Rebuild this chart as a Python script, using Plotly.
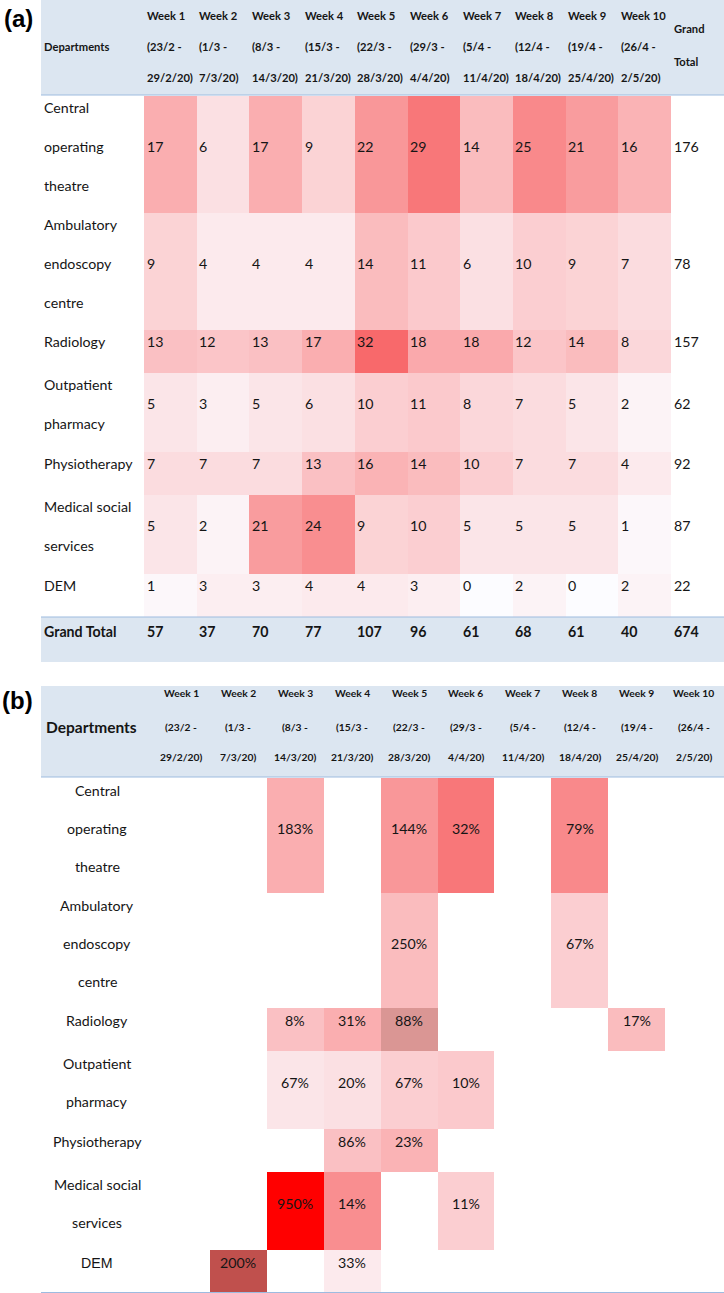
import numpy as np
import plotly.graph_objects as go

# ---------------- data ----------------
departments = ["Central operating theatre", "Ambulatory endoscopy centre", "Radiology",
               "Outpatient pharmacy", "Physiotherapy", "Medical social services", "DEM"]
dept_lines = [["Central", "operating", "theatre"],
              ["Ambulatory", "endoscopy", "centre"],
              ["Radiology"],
              ["Outpatient", "pharmacy"],
              ["Physiotherapy"],
              ["Medical social", "services"],
              ["DEM"]]
weeks = ["Week 1", "Week 2", "Week 3", "Week 4", "Week 5",
         "Week 6", "Week 7", "Week 8", "Week 9", "Week 10"]
week_start = ["(23/2 -", "(1/3 -", "(8/3 -", "(15/3 -", "(22/3 -",
              "(29/3 -", "(5/4 -", "(12/4 -", "(19/4 -", "(26/4 -"]
week_end = ["29/2/20)", "7/3/20)", "14/3/20)", "21/3/20)", "28/3/20)",
            "4/4/20)", "11/4/20)", "18/4/20)", "25/4/20)", "2/5/20)"]

cnt_central = [17, 6, 17, 9, 22, 29, 14, 25, 21, 16]
cnt_ambulatory = [9, 4, 4, 4, 14, 11, 6, 10, 9, 7]
cnt_radiology = [13, 12, 13, 17, 32, 18, 18, 12, 14, 8]
cnt_outpatient = [5, 3, 5, 6, 10, 11, 8, 7, 5, 2]
cnt_physio = [7, 7, 7, 13, 16, 14, 10, 7, 7, 4]
cnt_medsocial = [5, 2, 21, 24, 9, 10, 5, 5, 5, 1]
cnt_dem = [1, 3, 3, 4, 4, 3, 0, 2, 0, 2]

pct_central = [None, None, 183, None, 144, 32, None, 79, None, None]
pct_ambulatory = [None, None, None, None, 250, None, None, 67, None, None]
pct_radiology = [None, None, 8, 31, 88, None, None, None, 17, None]
pct_outpatient = [None, None, 67, 20, 67, 10, None, None, None, None]
pct_physio = [None, None, None, 86, 23, None, None, None, None, None]
pct_medsocial = [None, None, 950, 14, None, 11, None, None, None, None]
pct_dem = [None, 200, None, 33, None, None, None, None, None, None]

# manually highlighted cells of panel (b): (department, week, colour)
highlights = [("Medical social services", "Week 3", "#FF0000"),
              ("DEM", "Week 2", "#C0504D"),
              ("Radiology", "Week 5", "#DA9694")]

counts = [cnt_central, cnt_ambulatory, cnt_radiology, cnt_outpatient,
          cnt_physio, cnt_medsocial, cnt_dem]
pcts = [pct_central, pct_ambulatory, pct_radiology, pct_outpatient,
        pct_physio, pct_medsocial, pct_dem]
row_totals = [sum(r) for r in counts]
col_totals = [sum(c) for c in zip(*counts)]
grand_total = sum(row_totals)

# ---------------- layout constants ----------------
W, H = 724, 1293
FONT = "Lato"
ARIAL = "Liberation Sans"
TXT = "#151515"
BAND = "#DCE6F1"
LINE = "#9DBBE0"
SCALE = [[0, "#FCFCFF"], [1, "#F8696B"]]

# panel (a)
A_LEFT, A_COL0, A_COLW = 41, 144, 52.7
A_TOP = 96
A_ROWH = {1: 43, 2: 79, 3: 117}
A_LINE0, A_LINESP = 11, 39
# panel (b)
B_LEFT, B_COL0, B_COLW = 41, 153, 56.9
B_TOP = 778
B_ROWH = {1: 42.5, 2: 78.5, 3: 115}
B_LINE0, B_LINESP = 12.5, 38

fig = go.Figure()


def edges(start, sizes):
    e = [start]
    for s in sizes:
        e.append(e[-1] + s)
    return e


def ann(x, y, text, size, bold=False, xanchor="left", family=FONT, color=TXT):
    fig.add_annotation(x=x, y=y, xref="x", yref="y", text=f"<b>{text}</b>" if bold else text,
                       showarrow=False, xanchor=xanchor, yanchor="middle",
                       font=dict(family=family, size=size, color=color))


def band(x0, x1, y0, y1):
    fig.add_shape(type="rect", x0=x0, x1=x1, y0=y0, y1=y1, xref="x", yref="y",
                  fillcolor=BAND, line_width=0, layer="below")


def hline(x0, x1, y):
    fig.add_shape(type="line", x0=x0, x1=x1, y0=y, y1=y, xref="x", yref="y",
                  line=dict(color=LINE, width=1.2))


nrow, ncol = len(departments), len(weeks)
n_lines = [len(l) for l in dept_lines]

# ================= panel (a) =================
ax = [A_COL0 + A_COLW * i for i in range(ncol + 1)]
ay = edges(A_TOP, [A_ROWH[n] for n in n_lines])
band(A_LEFT, W, 0, A_TOP - 1)
band(A_LEFT, W, ay[-1], ay[-1] + 45)
fig.add_trace(go.Heatmap(z=np.array(counts, dtype=float), x=ax, y=ay, colorscale=SCALE,
                         zmin=0, zmax=max(max(r) for r in counts), showscale=False,
                         hoverinfo="skip"))
hline(A_LEFT, W, A_TOP - 1)
hline(A_LEFT, W, ay[-1])

HA = 11.2
ann(2, 18, "(a)", 24, bold=True, family=ARIAL, color="#000")
ann(A_LEFT + 1, 46, "Departments", HA, bold=True)
for j in range(ncol):
    ann(ax[j] + 0.5, 15, weeks[j], HA, bold=True)
    ann(ax[j] + 0.5, 46, week_start[j], HA, bold=True)
    ann(ax[j] + 0.5, 77, week_end[j], HA, bold=True)
ann(ax[-1] + 1, 28, "Grand", HA, bold=True)
ann(ax[-1] + 1, 61, "Total", HA, bold=True)

for i in range(nrow):
    top = ay[i]
    for k, line in enumerate(dept_lines[i]):
        ann(A_LEFT + 1, top + A_LINE0 + A_LINESP * k, line, 14.2)
    ymid = top + A_LINE0 + A_LINESP * (n_lines[i] - 1) / 2
    for j in range(ncol):
        ann(ax[j] + 0.5, ymid, str(counts[i][j]), 14.2)
    ann(ax[-1] + 0.5, ymid, str(row_totals[i]), 14.2)

gy = ay[-1] + 14
ann(A_LEFT + 1, gy, "Grand Total", 14.2, bold=True)
for j in range(ncol):
    ann(ax[j] + 0.5, gy, str(col_totals[j]), 14.2, bold=True)
ann(ax[-1] + 0.5, gy, str(grand_total), 14.2, bold=True)

# ================= panel (b) =================
bx = [B_COL0 + B_COLW * i for i in range(ncol + 1)]
by = edges(B_TOP, [B_ROWH[n] for n in n_lines])
band(B_LEFT, W, 686, B_TOP - 1)

hl_idx = {(d, w): k for k, (d, w, c) in enumerate(highlights)}
zb = np.full((nrow, ncol), np.nan)
zh = np.full((nrow, ncol), np.nan)
for i in range(nrow):
    for j in range(ncol):
        if pcts[i][j] is None:
            continue
        key = (departments[i], weeks[j])
        if key in hl_idx:
            zh[i, j] = hl_idx[key]
        else:
            zb[i, j] = counts[i][j]
fig.add_trace(go.Heatmap(z=zb, x=bx, y=by, colorscale=SCALE, zmin=0,
                         zmax=max(max(r) for r in counts), showscale=False, hoverinfo="skip"))
nh = len(highlights)
hl_scale = [[k / (nh - 1), c] for k, (d, w, c) in enumerate(highlights)]
fig.add_trace(go.Heatmap(z=zh, x=bx, y=by, colorscale=hl_scale, zmin=0, zmax=nh - 1,
                         showscale=False, hoverinfo="skip"))
hline(B_LEFT, W, B_TOP - 1)
hline(B_LEFT, W, by[-1])

ann(0, 700, "(b)", 24, bold=True, family=ARIAL, color="#000")
ann(91, 727, "Departments", 15.5, bold=True, xanchor="center")
for j in range(ncol):
    cx = (bx[j] + bx[j + 1]) / 2
    ann(cx, 693, weeks[j], 10.3, bold=True, xanchor="center")
    ann(cx, 727, week_start[j], 10.3, bold=True, xanchor="center")
    ann(cx, 757, week_end[j], 10.3, bold=True, xanchor="center")

lab_cx = (B_LEFT + B_COL0) / 2
for i in range(nrow):
    top = by[i]
    fam = ARIAL if departments[i] == "DEM" else FONT
    for k, line in enumerate(dept_lines[i]):
        ann(lab_cx, top + B_LINE0 + B_LINESP * k, line, 14.2, xanchor="center", family=fam)
    ymid = top + B_LINE0 + B_LINESP * (n_lines[i] - 1) / 2
    for j in range(ncol):
        if pcts[i][j] is not None:
            ann((bx[j] + bx[j + 1]) / 2, ymid, f"{pcts[i][j]}%", 14.2, xanchor="center")

fig.update_layout(
    width=W, height=H, margin=dict(l=0, r=0, t=0, b=0),
    paper_bgcolor="white", plot_bgcolor="white", showlegend=False,
    xaxis=dict(range=[0, W], visible=False, fixedrange=True),
    yaxis=dict(range=[H, 0], visible=False, fixedrange=True),
)
fig.write_html("out.html", config={"displayModeBar": False},
               post_script="document.body.style.margin='0';")
